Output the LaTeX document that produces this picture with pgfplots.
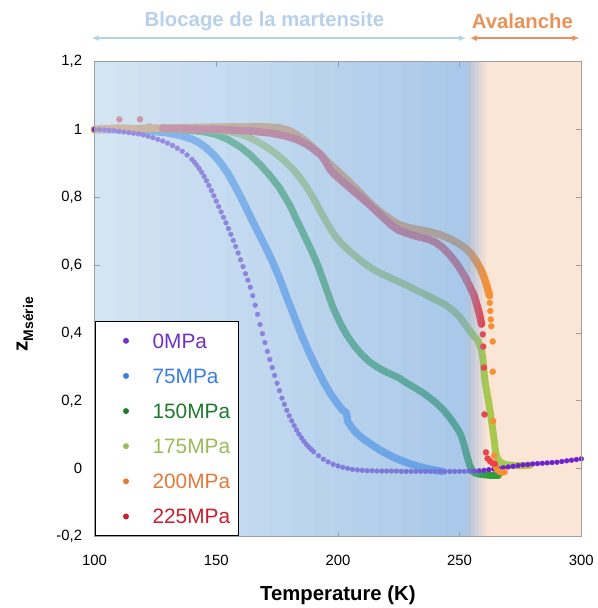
\documentclass[border=0pt]{standalone}
\usepackage{pgfplots}
\pgfplotsset{compat=1.18}
\usepackage{fontspec}
\setmainfont{Liberation Sans}
\usetikzlibrary{arrows.meta}
\definecolor{c0}{HTML}{7020D0}
\definecolor{c1}{HTML}{4A93F0}
\definecolor{c2}{HTML}{2E9E3A}
\definecolor{c3}{HTML}{A8C84E}
\definecolor{c4}{HTML}{F79035}
\definecolor{c5}{HTML}{EE4048}
\definecolor{l0}{HTML}{7032C4}
\definecolor{l1}{HTML}{3A7FE0}
\definecolor{l2}{HTML}{1F7A2E}
\definecolor{l3}{HTML}{9BBB59}
\definecolor{l4}{HTML}{E37A3A}
\definecolor{l5}{HTML}{C8202C}
\definecolor{bgL}{HTML}{BBD5ED}
\definecolor{bgR}{HTML}{74A8DD}
\definecolor{peach}{HTML}{FBE5D6}
\definecolor{blueann}{HTML}{B7D0EC}
\definecolor{orann}{HTML}{E8925A}
\pgfplotsset{
  layers/mylayers/.define layer set={axis background,axis grid,axis tick labels,pre main,main,ovl,axis ticks,axis lines,axis descriptions,axis foreground}{
    grid style={/pgfplots/on layer=axis grid},
    tick style={/pgfplots/on layer=axis ticks},
    axis line style={/pgfplots/on layer=axis lines},
    label style={/pgfplots/on layer=axis descriptions},
    legend style={/pgfplots/on layer=axis descriptions},
    title style={/pgfplots/on layer=axis descriptions},
    colorbar style={/pgfplots/on layer=axis descriptions},
    ticklabel style={/pgfplots/on layer=axis tick labels},
    axis background@ style={/pgfplots/on layer=axis background},
  },
}
\begin{document}
\begin{tikzpicture}
\begin{axis}[
  set layers=mylayers,
  scale only axis, width=489bp, height=477bp,
  xmin=100, xmax=300, ymin=-0.2, ymax=1.2,
  clip=false,
  axis line style={draw=gray!75, line width=0.8bp},
  tick align=inside, major tick length=5bp,
  tick style={gray!75, line width=0.8bp},
  xtick={100,150,200,250,300},
  ytick={-0.2,0,0.2,0.4,0.6,0.8,1,1.2},
  /pgf/number format/assume math mode=true,
  /pgf/number format/use comma,
  /pgf/number format/fixed,
  /pgf/number format/precision=1,
  tick label style={font=\fontsize{15}{18}\selectfont},
  xticklabel style={anchor=center, yshift=-24bp},
  yticklabel style={anchor=east, xshift=-9bp},
  xlabel={\textbf{Temperature (K)}},
  xlabel style={font=\fontsize{20.5}{24}\selectfont, at={(rel axis cs:0.5,0)}, anchor=center, yshift=-59bp},
  ylabel={\fontsize{21}{24}\selectfont\textbf{z}\raisebox{-0.5ex}{\fontsize{14}{16}\selectfont\textbf{Msérie}}},
  ylabel style={at={(rel axis cs:-0.143,0.447)}, anchor=center},
  legend style={at={(rel axis cs:0,0)}, anchor=south west, draw=black, line width=1.2bp, fill=white,
    inner xsep=8bp, inner ysep=12bp, row sep=20.3bp, font=\fontsize{21}{24}\selectfont,
    nodes={inner sep=0pt, text height=15bp, text depth=0bp, anchor=base west}},
  legend cell align=left,
  legend image code/.code={\path[draw=none,fill=none] (0bp,0bp) -- (49.7bp,0bp); \fill[#1, draw=none] (23bp,7.5bp) circle (3bp);},
]
% background behind the data
\begin{pgfonlayer}{pre main}
\fill[white] (axis cs:100,-0.2) rectangle (axis cs:253,1.2);
\fill[peach] (axis cs:253,-0.2) rectangle (axis cs:300,1.2);
\end{pgfonlayer}

% 0 MPa
\addplot[only marks, mark=*, mark size=2.4pt, c0, mark options={draw=none}, legend image post style={l0}] coordinates {
(100,1.000)(102,1.000)(104,0.999)(106,0.998)(108,0.997)(110,0.995)(112,0.993)(114,0.991)(116,0.989)(118,0.987)
(120,0.984)(122,0.980)(124,0.976)(126,0.971)(128,0.966)(130,0.960)(132,0.953)(134,0.945)(136,0.936)(138,0.925)
(140,0.912)(141,0.904)(142,0.895)(143,0.885)(144,0.874)(145,0.862)(146,0.849)(147,0.835)(148,0.820)(149,0.805)
(150,0.789)(151,0.773)(152,0.757)(153,0.741)(154,0.725)(155,0.708)(156,0.691)(157,0.673)(158,0.655)(159,0.636)
(160,0.616)(161,0.596)(162,0.575)(163,0.556)(164,0.535)(165,0.510)(166,0.482)(167,0.455)(168,0.425)(169,0.398)
(170,0.372)(171,0.346)(172,0.322)(173,0.298)(174,0.275)(175,0.252)(176,0.230)(177,0.208)(178,0.190)(179,0.172)
(180,0.156)(181,0.141)(182,0.127)(183,0.114)(184,0.102)(185,0.091)(186,0.081)(187,0.072)(188,0.064)(189,0.057)
(190,0.050)(192,0.038)(194,0.028)(196,0.020)(198,0.013)(200,0.008)(202,0.004)(204,0.001)(206,-0.002)(208,-0.004)
(210,-0.005)(212,-0.006)(214,-0.006)(216,-0.007)(218,-0.007)(220,-0.007)(222,-0.007)(224,-0.007)(226,-0.008)(228,-0.008)
(230,-0.008)(232,-0.008)(234,-0.008)(236,-0.008)(238,-0.008)(240,-0.008)(242,-0.008)(244,-0.008)(246,-0.008)(248,-0.008)
(250,-0.008)(252,-0.008)(254,-0.007)(256,-0.007)(258,-0.006)(260,-0.005)(262,-0.003)(264,-0.001)(266,0.001)(268,0.003)
(270,0.005)(272,0.007)(274,0.009)(276,0.011)(278,0.012)(280,0.014)(282,0.015)(284,0.016)(286,0.017)(288,0.018)
(290,0.019)(292,0.021)(294,0.023)(296,0.025)(298,0.027)(300,0.029)
};
\addlegendentry{\textcolor{l0}{0MPa}}

% 75 MPa
\addplot[c1, line width=7.5bp, line join=round, line cap=round, mark=none, legend image post style={l1}] coordinates {
(100,1.000)(105,1.000)(110,0.999)(115,0.998)(120,0.997)(125,0.994)(130,0.990)(135,0.983)(140,0.972)(143,0.961)
(146,0.945)(149,0.925)(152,0.900)(155,0.868)(158,0.830)(161,0.788)(164,0.743)(167,0.700)(170,0.657)(173,0.612)
(176,0.562)(179,0.505)(182,0.450)(185,0.395)(188,0.345)(191,0.300)(194,0.258)(197,0.220)(200,0.190)(202,0.172)
(203.5,0.165)(204,0.140)(206,0.118)(208,0.102)(211,0.085)(214,0.070)(217,0.056)(220,0.044)(223,0.033)(226,0.024)
(229,0.016)(232,0.009)(235,0.003)(238,-0.002)(241,-0.006)(243,-0.008)
};
\addlegendentry{\textcolor{l1}{75MPa}}

% 150 MPa
\addplot[c2, line width=7bp, line join=round, line cap=round, mark=none, legend image post style={l2}] coordinates {
(100,1.000)(105,1.002)(110,1.003)(115,1.003)(120,1.002)(125,1.001)(130,1.000)(135,0.999)(140,0.997)(145,0.993)
(150,0.985)(155,0.970)(160,0.948)(164,0.925)(168,0.897)(172,0.865)(176,0.828)(180,0.780)(183,0.735)(186,0.690)
(189,0.645)(192,0.595)(195,0.535)(198,0.475)(201,0.428)(204,0.390)(207,0.360)(210,0.335)(213,0.315)(216,0.300)
(219,0.288)(222,0.278)(225,0.268)(228,0.254)(231,0.241)(234,0.228)(237,0.213)(240,0.196)(243,0.176)(246,0.150)
(248,0.130)(250,0.107)(251,0.090)(252,0.065)(253,0.038)(254,0.012)(255,-0.004)(256,-0.012)(258,-0.016)(260,-0.018)
(263,-0.020)(266,-0.020)
};
\addlegendentry{\textcolor{l2}{150MPa}}

% 175 MPa
\addplot[c3, line width=7bp, line join=round, line cap=round, mark=none, legend image post style={l3}] coordinates {
(100,1.000)(105,1.002)(110,1.003)(120,1.003)(130,1.002)(140,1.001)(150,0.998)(155,0.994)(160,0.986)(163,0.978)
(166,0.968)(169,0.956)(172,0.942)(175,0.926)(178,0.908)(181,0.887)(184,0.862)(187,0.832)(190,0.797)(193,0.757)
(196,0.718)(199,0.684)(202,0.660)(205,0.640)(208,0.622)(211,0.605)(214,0.590)(217,0.578)(220,0.568)(223,0.558)
(226,0.548)(229,0.538)(232,0.527)(235,0.517)(238,0.506)(241,0.495)(244,0.484)(247,0.468)(250,0.448)(252,0.428)
(254,0.408)(256,0.390)(257.5,0.378)(259,0.350)(259.5,0.330)(260.3,0.265)(261.2,0.225)(262,0.195)(262.8,0.155)(263.6,0.117)
(264.3,0.080)(264.8,0.047)(265.5,0.030)(266.9,0.018)(269,0.012)(272.6,0.009)(276,0.009)(279,0.010)
};
\addlegendentry{\textcolor{l3}{175MPa}}

% 200 MPa
\addplot[c4, line width=7.5bp, line join=round, line cap=round, mark=none, legend image post style={l4}] coordinates {
(100,1.000)(103,1.002)(106,1.003)(109,1.004)(112,1.004)(115,1.003)(118,1.003)(121,1.004)(124,1.004)(130,1.005)
(140,1.006)(150,1.007)(160,1.008)(170,1.008)(176,1.005)(180,0.997)(183,0.985)(186,0.970)(189,0.952)(192,0.932)
(195,0.910)(198,0.890)(201,0.870)(204,0.850)(207,0.829)(210,0.807)(213,0.785)(216,0.765)(219,0.748)(222,0.733)
(225,0.720)(228,0.713)(231,0.708)(234,0.704)(238,0.698)(242,0.690)(246,0.678)(249.3,0.665)(252,0.652)(254.6,0.635)
(256.8,0.612)(258.7,0.588)(260,0.565)(260.8,0.548)(261.6,0.528)(262.3,0.510)
};
\addlegendentry{\textcolor{l4}{200MPa}}
\addplot[forget plot, only marks, mark=*, mark size=3pt, c4, mark options={draw=none}] coordinates {
(122.5,1.010)(262.4,0.489)(262.6,0.465)(262.8,0.440)(263.0,0.420)(263.6,0.375)(263.6,0.286)(263.8,0.140)(264.2,0.038)
(264.8,0.005)(265.6,-0.005)(266.5,-0.010)(267.5,-0.012)(268.5,-0.010)
};

% 225 MPa
\addplot[c5, line width=7.5bp, line join=round, line cap=round, mark=none, legend image post style={l5}] coordinates {
(128,1.003)(135,1.002)(142,1.001)(150,1.000)(158,0.998)(165,0.995)(172,0.990)(178,0.982)(183,0.971)(187,0.957)
(190,0.942)(193,0.925)(195,0.905)(196.5,0.885)(198,0.872)(201,0.852)(204,0.834)(207,0.815)(210,0.797)(213,0.778)
(216,0.758)(219,0.738)(222,0.718)(225,0.703)(228,0.695)(231,0.688)(234,0.682)(237,0.677)(240,0.668)(243,0.652)
(246,0.630)(249,0.603)(252,0.568)(254,0.540)(256,0.510)(257,0.485)(258,0.460)(259,0.426)
};
\addlegendentry{\textcolor{l5}{225MPa}}
\addplot[forget plot, only marks, mark=*, mark size=3pt, c5, mark options={draw=none}] coordinates {
(110.2,1.030)(118.7,1.030)(259.5,0.396)(259.7,0.360)(260,0.298)(260.2,0.160)(260.8,0.048)(261.5,0.030)(262.5,0.022)
(263.5,0.016)(264.5,0.014)
};

% translucent blue overlay (stepped gradient), above the data
\begin{pgfonlayer}{ovl}
\fill[bgR!3!bgL, fill opacity=0.62] (axis cs:100,-0.2) rectangle (axis cs:109,1.2);
\fill[bgR!9!bgL, fill opacity=0.62] (axis cs:109,-0.2) rectangle (axis cs:118,1.2);
\fill[bgR!15!bgL, fill opacity=0.62] (axis cs:118,-0.2) rectangle (axis cs:127,1.2);
\fill[bgR!21!bgL, fill opacity=0.62] (axis cs:127,-0.2) rectangle (axis cs:136,1.2);
\fill[bgR!26!bgL, fill opacity=0.62] (axis cs:136,-0.2) rectangle (axis cs:145,1.2);
\fill[bgR!32!bgL, fill opacity=0.62] (axis cs:145,-0.2) rectangle (axis cs:154,1.2);
\fill[bgR!38!bgL, fill opacity=0.62] (axis cs:154,-0.2) rectangle (axis cs:163,1.2);
\fill[bgR!44!bgL, fill opacity=0.62] (axis cs:163,-0.2) rectangle (axis cs:172,1.2);
\fill[bgR!50!bgL, fill opacity=0.62] (axis cs:172,-0.2) rectangle (axis cs:181,1.2);
\fill[bgR!56!bgL, fill opacity=0.62] (axis cs:181,-0.2) rectangle (axis cs:190,1.2);
\fill[bgR!62!bgL, fill opacity=0.62] (axis cs:190,-0.2) rectangle (axis cs:199,1.2);
\fill[bgR!68!bgL, fill opacity=0.62] (axis cs:199,-0.2) rectangle (axis cs:208,1.2);
\fill[bgR!74!bgL, fill opacity=0.62] (axis cs:208,-0.2) rectangle (axis cs:217,1.2);
\fill[bgR!79!bgL, fill opacity=0.62] (axis cs:217,-0.2) rectangle (axis cs:226,1.2);
\fill[bgR!85!bgL, fill opacity=0.62] (axis cs:226,-0.2) rectangle (axis cs:235,1.2);
\fill[bgR!91!bgL, fill opacity=0.62] (axis cs:235,-0.2) rectangle (axis cs:244,1.2);
\fill[bgR!97!bgL, fill opacity=0.62] (axis cs:244,-0.2) rectangle (axis cs:253,1.2);
\fill[bgR, fill opacity=0.52] (axis cs:253,-0.2) rectangle (axis cs:254.6,1.2);
\fill[bgR, fill opacity=0.41] (axis cs:254.6,-0.2) rectangle (axis cs:256.2,1.2);
\fill[bgR, fill opacity=0.30] (axis cs:256.2,-0.2) rectangle (axis cs:257.8,1.2);
\fill[bgR, fill opacity=0.19] (axis cs:257.8,-0.2) rectangle (axis cs:259.4,1.2);
\fill[bgR, fill opacity=0.09] (axis cs:259.4,-0.2) rectangle (axis cs:261,1.2);
\end{pgfonlayer}

% annotations
\draw[blueann, line width=2.6bp, {Latex[length=7bp,width=6bp]}-{Latex[length=7bp,width=6bp]}]
  (rel axis cs:-0.006,1.0497) -- (rel axis cs:0.763,1.0497);
\draw[orann, line width=2.6bp, {Latex[length=7bp,width=6bp]}-{Latex[length=7bp,width=6bp]}]
  (rel axis cs:0.771,1.0497) -- (rel axis cs:0.996,1.0497);
\node[blueann, font=\fontsize{20.5}{24}\selectfont\bfseries] at (rel axis cs:0.349,1.0845) {Blocage de la martensite};
\node[orann, font=\fontsize{20.5}{24}\selectfont\bfseries] at (rel axis cs:0.879,1.0845) {Avalanche};
\end{axis}
\path ([shift={(-95bp,-69bp)}]current axis.south west) rectangle ([shift={(13bp,62bp)}]current axis.north east);
\end{tikzpicture}
\end{document}
